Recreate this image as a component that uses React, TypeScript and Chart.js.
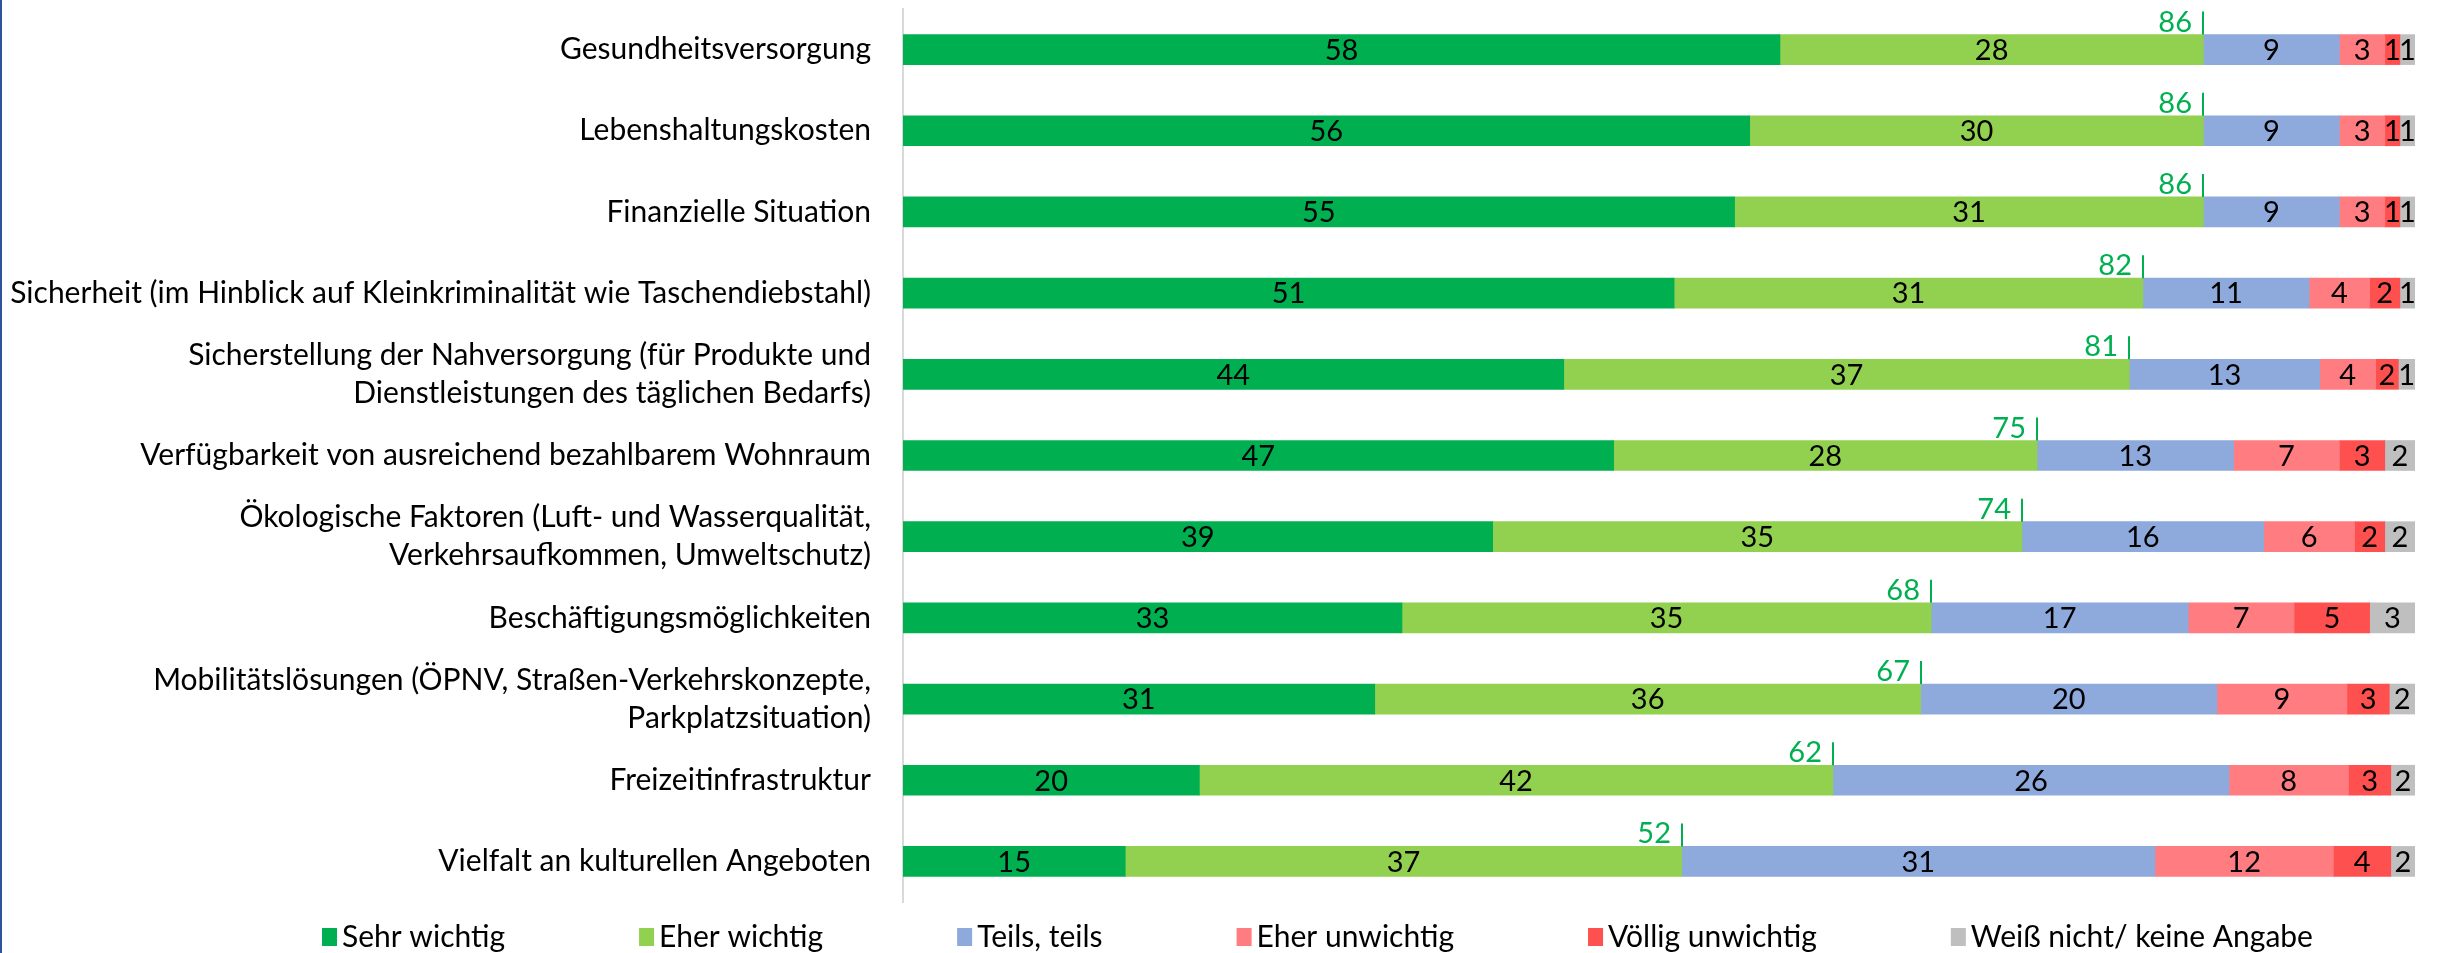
import React, { useEffect, useRef } from "react";
import { Chart, registerables } from "chart.js";

Chart.register(...registerables);

const categories: (string | string[])[] = [
  "Gesundheitsversorgung",
  "Lebenshaltungskosten",
  "Finanzielle Situation",
  "Sicherheit (im Hinblick auf Kleinkriminalität wie Taschendiebstahl)",
  ["Sicherstellung der Nahversorgung (für Produkte und", "Dienstleistungen des täglichen Bedarfs)"],
  "Verfügbarkeit von ausreichend bezahlbarem Wohnraum",
  ["Ökologische Faktoren (Luft- und Wasserqualität,", "Verkehrsaufkommen, Umweltschutz)"],
  "Beschäftigungsmöglichkeiten",
  ["Mobilitätslösungen (ÖPNV, Straßen-Verkehrskonzepte,", "Parkplatzsituation)"],
  "Freizeitinfrastruktur",
  "Vielfalt an kulturellen Angeboten",
];

const seriesNames = [
  "Sehr wichtig",
  "Eher wichtig",
  "Teils, teils",
  "Eher unwichtig",
  "Völlig unwichtig",
  "Weiß nicht/ keine Angabe",
];

const sehrWichtig = [58, 56, 55, 51, 43.7, 47, 39, 33, 31.2, 19.6, 14.7];
const eherWichtig = [28, 30, 31, 31, 37.4, 28, 35, 35, 36.1, 41.9, 36.8];
const teilsTeils = [9, 9, 9, 11, 12.6, 13, 16, 17, 19.6, 26.2, 31.3];
const eherUnwichtig = [3, 3, 3, 4, 3.7, 7, 6, 7, 8.6, 7.9, 11.8];
const voelligUnwichtig = [1, 1, 1, 2, 1.5, 3, 2, 5, 2.8, 2.8, 3.8];
const weissNicht = [1, 1, 1, 1, 1.1, 2, 2, 3, 1.7, 1.6, 1.6];

const wichtigTotalLabels = [86, 86, 86, 82, 81, 75, 74, 68, 67, 62, 52];

const colors = ["#00B050", "#92D050", "#8EA9DB", "#FF7C80", "#FF5050", "#BFBFBF"];

const FONT = "Lato, 'Open Sans', sans-serif";
const TEXT_SIZE = 30;
const NUM_SIZE = 29;

const segmentLabelPlugin = {
  id: "segmentLabels",
  afterDatasetsDraw(chart: any) {
    const ctx = chart.ctx;
    ctx.save();
    ctx.font = `${NUM_SIZE}px ${FONT}`;
    ctx.fillStyle = "#000";
    ctx.textAlign = "center";
    ctx.textBaseline = "middle";
    chart.data.datasets.forEach((ds: any, i: number) => {
      const meta = chart.getDatasetMeta(i);
      meta.data.forEach((bar: any, j: number) => {
        const v = ds.data[j];
        if (!v) return;
        const { x, base, y } = bar.getProps(["x", "base", "y"], true);
        ctx.fillText(String(Math.round(v)), (x + base) / 2, y + 1);
      });
    });
    ctx.restore();
  },
};

const totalPlugin = {
  id: "wichtigTotals",
  afterDatasetsDraw(chart: any) {
    const ctx = chart.ctx;
    const xs = chart.scales.x;
    const meta = chart.getDatasetMeta(0);
    ctx.save();
    ctx.font = `${NUM_SIZE}px ${FONT}`;
    ctx.fillStyle = "#00B050";
    ctx.strokeStyle = "#00B050";
    ctx.lineWidth = 2;
    ctx.textAlign = "right";
    ctx.textBaseline = "alphabetic";
    meta.data.forEach((bar: any, j: number) => {
      const { y, height } = bar.getProps(["y", "height"], true);
      const top = y - height / 2;
      const x = Math.round(xs.getPixelForValue(sehrWichtig[j] + eherWichtig[j]));
      ctx.beginPath();
      ctx.moveTo(x, top - 23);
      ctx.lineTo(x, top);
      ctx.stroke();
      ctx.fillText(String(wichtigTotalLabels[j]), x - 11, top - 3);
    });
    ctx.restore();
  },
};

const legendPlugin = {
  id: "bottomLegend",
  afterDraw(chart: any) {
    const ctx = chart.ctx;
    ctx.save();
    ctx.font = `${TEXT_SIZE}px ${FONT}`;
    ctx.textAlign = "left";
    ctx.textBaseline = "middle";
    const cy = 937;
    let x = 322;
    chart.data.datasets.forEach((ds: any) => {
      ctx.fillStyle = ds.backgroundColor;
      ctx.fillRect(x, cy - 9, 15, 18);
      ctx.fillStyle = "#000";
      ctx.fillText(ds.label, x + 20, cy);
      x += 20 + ctx.measureText(ds.label).width + 134;
    });
    ctx.restore();
  },
};

export default function App() {
  const ref = useRef<HTMLCanvasElement | null>(null);

  useEffect(() => {
    document.body.style.margin = "0";
    const seriesData = [sehrWichtig, eherWichtig, teilsTeils, eherUnwichtig, voelligUnwichtig, weissNicht];
    const chart = new Chart(ref.current as HTMLCanvasElement, {
      type: "bar",
      data: {
        labels: categories as any,
        datasets: seriesNames.map((name, i) => ({
          label: name,
          data: seriesData[i],
          backgroundColor: colors[i],
          borderWidth: 0,
          barThickness: 30,
        })),
      },
      options: {
        indexAxis: "y",
        responsive: false,
        animation: false,
        layout: { padding: { left: 0, right: 25, top: 9, bottom: 51 } },
        scales: {
          x: { stacked: true, min: 0, max: 100, display: false },
          y: {
            stacked: true,
            grid: { display: false, drawTicks: false },
            border: { display: true, color: "#D9D9D9", width: 2 },
            ticks: {
              color: "#000",
              padding: 32,
              font: { family: FONT, size: TEXT_SIZE, lineHeight: 38 / TEXT_SIZE },
            },
            afterFit(scale: any) {
              scale.width = 903;
              scale.paddingTop = 0;
              scale.paddingBottom = 0;
            },
          },
        },
        plugins: {
          legend: { display: false },
          tooltip: { enabled: false },
        },
      },
      plugins: [segmentLabelPlugin, totalPlugin, legendPlugin],
    });
    return () => chart.destroy();
  }, []);

  return (
    <div style={{ position: "relative", width: 2440, height: 953, background: "#fff" }}>
      <canvas ref={ref} width={2440} height={953} style={{ display: "block" }} />
      <div style={{ position: "absolute", left: 0, top: 0, width: 2, height: 953, background: "#2F5597" }} />
    </div>
  );
}
